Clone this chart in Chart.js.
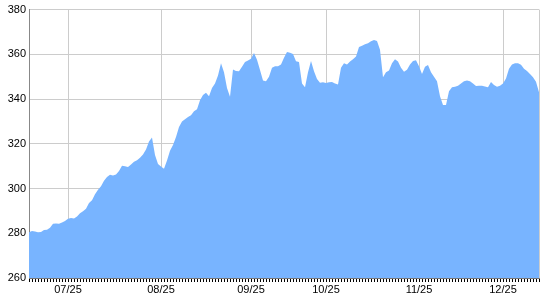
<!DOCTYPE html>
<html lang="en">
<head>
<meta charset="UTF-8">
<title>Area chart</title>
<script src="https://cdn.jsdelivr.net/npm/chart.js"></script>
<style>
  html, body { margin: 0; padding: 0; background: #fff; }
  .wrap { width: 540px; height: 300px; }
</style>
</head>
<body>
<div class="wrap"><canvas id="grafico"></canvas></div>
<script>
  // valores diarios
  const values = [
    280.5, 281.0, 280.8, 280.5, 280.6, 281.5, 281.6, 282.5, 284.3, 284.4,
    284.3, 284.8, 285.5, 286.5, 286.8, 286.6, 287.5, 289.0, 289.8, 291.0,
    293.5, 294.8, 297.5, 299.5, 301.0, 303.5, 305.2, 306.2, 305.8, 306.3,
    307.8, 310.2, 310.0, 309.6, 310.8, 312.0, 312.7, 313.8, 315.2, 317.5,
    321.0, 322.8, 315.0, 311.0, 309.8, 308.8, 312.5, 316.9, 319.5, 323.0,
    327.5, 330.0, 331.0, 332.0, 332.8, 334.5, 335.5, 339.5, 341.8, 342.8,
    341.3, 345.0, 347.0, 350.5, 356.0, 352.0, 345.0, 341.0, 353.2, 352.6,
    352.4, 354.5, 356.6, 357.2, 358.0, 360.6, 357.6, 353.0, 348.3, 348.0,
    350.0, 354.0, 354.7, 354.7, 355.5, 358.5, 361.0, 360.7, 360.2, 356.9,
    356.6, 347.0, 345.3, 352.0, 357.0, 352.4, 349.0, 347.3, 347.5, 347.2,
    347.5, 347.6, 347.0, 346.5, 354.0, 356.0, 355.4, 356.8, 357.8, 359.0,
    363.3, 363.8, 364.5, 365.0, 365.8, 366.4, 366.0, 362.0, 349.8, 352.0,
    352.8, 356.0, 357.8, 356.8, 354.0, 352.2, 353.1, 355.5, 357.0, 357.3,
    354.7, 351.2, 354.5, 355.2, 352.0, 350.0, 348.0, 341.3, 337.3, 337.3,
    343.5, 345.3, 345.5, 346.0, 347.0, 348.0, 348.3, 348.0, 347.0, 345.8,
    346.0, 346.0, 345.6, 345.3, 347.6, 346.3, 345.5, 346.0, 347.0, 349.2,
    353.5, 355.5, 356.0, 356.0, 355.3, 353.5, 352.5, 351.2, 349.8, 347.7,
    343.0
  ];

  // rotulos dos meses e a posicao (indice) de cada um
  const monthLabels = ['07/25', '08/25', '09/25', '10/25', '11/25', '12/25'];
  const monthIdx = [13, 44, 74, 99, 130, 158];

  const yTicks = [260, 280, 300, 320, 340, 360, 380];

  const labels = values.map(() => '');
  monthIdx.forEach((idx, i) => { labels[idx] = monthLabels[i]; });
  const last = values.length - 1;

  const fonte = { family: 'Arial, "Liberation Sans", sans-serif', size: 11 };

  new Chart(document.getElementById('grafico'), {
    type: 'line',
    data: {
      labels: labels,
      datasets: [{
        data: values,
        fill: 'start',
        backgroundColor: '#78b4ff',
        borderWidth: 0,
        pointRadius: 0,
        tension: 0
      }]
    },
    options: {
      responsive: true,
      maintainAspectRatio: false,
      animation: false,
      layout: { padding: { top: 8, right: 1, left: 0, bottom: 0 } },
      plugins: { legend: { display: false }, tooltip: { enabled: false } },
      scales: {
        x: {
          type: 'category',
          grid: {
            color: (c) => (c.index === last || labels[c.index]) ? '#cccccc' : 'rgba(0,0,0,0)',
            tickColor: '#000000',
            tickLength: 4
          },
          border: { color: '#777777' },
          ticks: {
            autoSkip: false,
            maxRotation: 0,
            minRotation: 0,
            padding: 1,
            color: '#000000',
            font: fonte,
            callback: (v, i) => labels[i]
          },
          afterFit: (s) => { s.height = 22; }
        },
        y: {
          min: yTicks[0],
          max: yTicks[yTicks.length - 1],
          afterBuildTicks: (s) => { s.ticks = yTicks.map(v => ({ value: v })); },
          grid: { color: '#cccccc', drawTicks: false },
          border: { color: '#888888' },
          ticks: { color: '#000000', font: fonte, padding: 3 },
          afterFit: (s) => { s.width = 29; }
        }
      }
    }
  });
</script>
</body>
</html>
